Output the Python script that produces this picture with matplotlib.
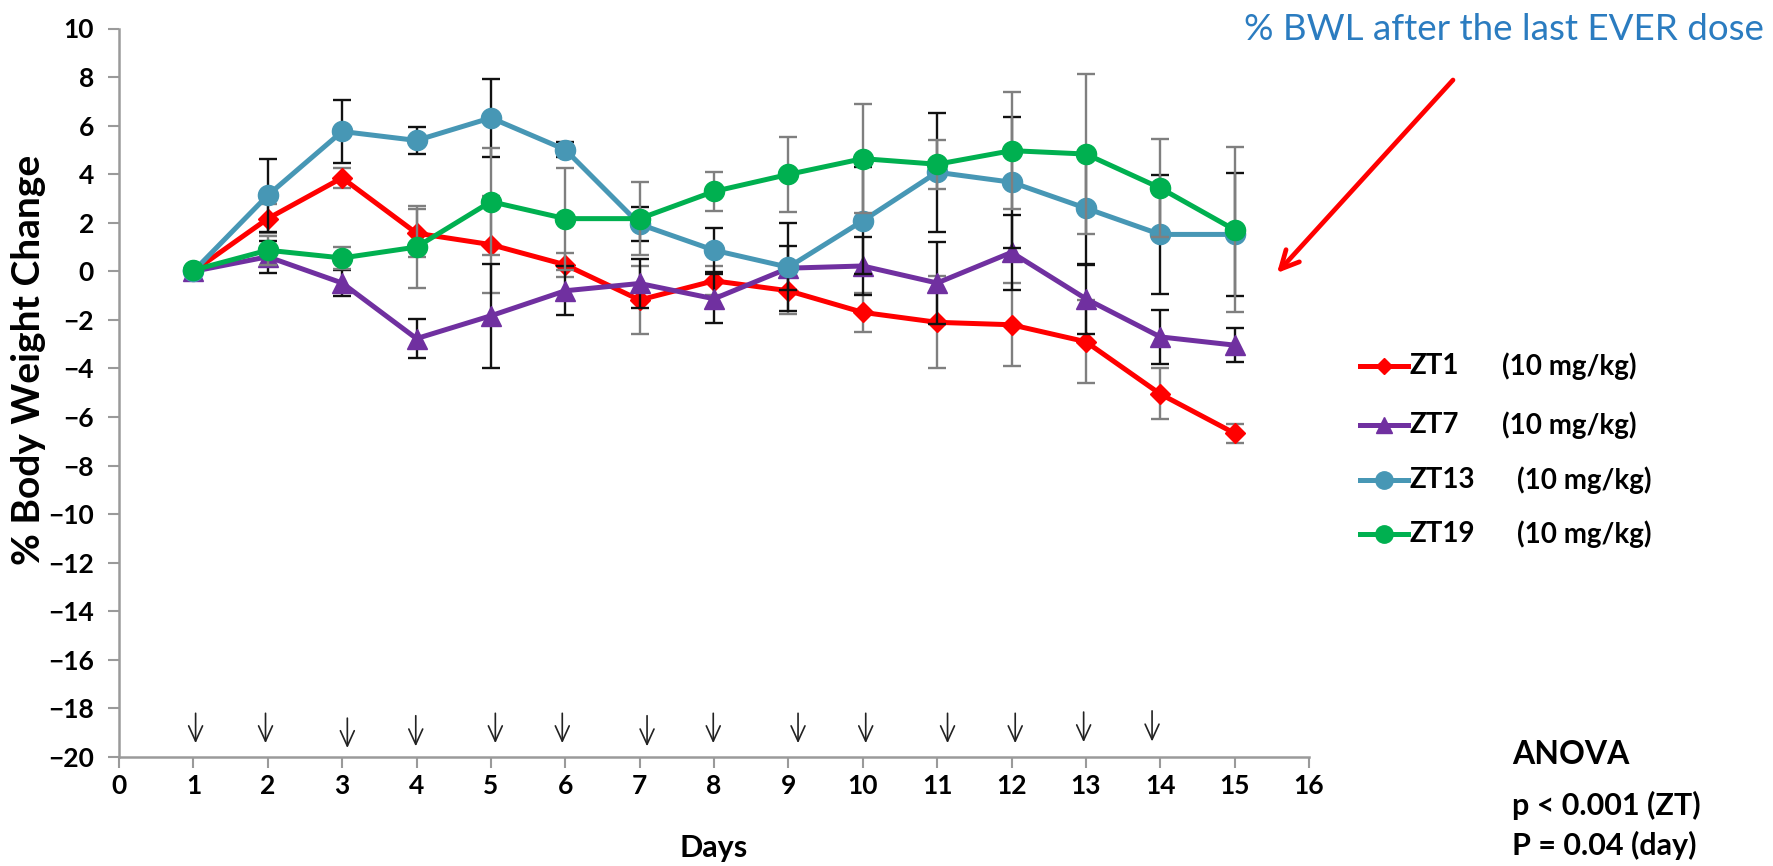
import numpy as np
import matplotlib
matplotlib.use("Agg")
import matplotlib.pyplot as plt

plt.rcParams['font.family'] = ['Lato', 'DejaVu Sans']

# === DATA ===
days = [1, 2, 3, 4, 5, 6, 7, 8, 9, 10, 11, 12, 13, 14, 15]

zt1 = [0.0, 2.17, 3.85, 1.57, 1.10, 0.27, -1.18, -0.39, -0.80, -1.69, -2.10, -2.20, -2.90, -5.05, -6.67]
zt1_err = [0, 0.6, 0.4, 1.0, 2.0, 0.5, 1.4, 0.6, 0.95, 0.8, 1.9, 1.7, 1.7, 1.05, 0.4]

zt7 = [0.0, 0.60, -0.48, -2.77, -1.83, -0.80, -0.50, -1.13, 0.13, 0.22, -0.48, 0.78, -1.13, -2.70, -3.04]
zt7_err = [0, 0.65, 0.55, 0.8, 2.15, 1.0, 1.0, 1.0, 0.9, 1.2, 1.7, 1.55, 1.45, 1.1, 0.7]

zt13 = [0.0, 3.13, 5.76, 5.39, 6.32, 5.01, 1.94, 0.87, 0.17, 2.08, 4.08, 3.67, 2.60, 1.52, 1.52]
zt13_err = [0, 1.5, 1.3, 0.55, 1.6, 0.3, 0.7, 0.9, 1.8, 2.2, 2.45, 2.7, 2.35, 2.45, 2.55]

zt19 = [0.05, 0.87, 0.55, 1.00, 2.87, 2.17, 2.17, 3.29, 3.99, 4.64, 4.41, 4.97, 4.83, 3.43, 1.71]
zt19_err = [0, 0.6, 0.45, 1.7, 2.2, 2.1, 1.5, 0.8, 1.55, 2.25, 1.0, 2.4, 3.3, 2.0, 3.4]

labels = ["ZT1", "ZT7", "ZT13", "ZT19"]
dose = "(10 mg/kg)"

# dosing arrows (x position, top, bottom)
dose_x = [1.03, 1.97, 3.07, 3.99, 5.06, 5.96, 7.10, 7.99, 9.13, 10.04, 11.14, 12.05, 12.97, 13.89]
dose_top = [-18.2, -18.2, -18.4, -18.3, -18.2, -18.2, -18.3, -18.2, -18.2, -18.2, -18.2, -18.2, -18.15, -18.1]
dose_bot = [-19.43, -19.43, -19.63, -19.56, -19.43, -19.43, -19.56, -19.43, -19.43, -19.43, -19.43, -19.43, -19.39, -19.36]

# === STYLE ===
colors = ["#FF0000", "#7030A0", "#4797B5", "#00B050"]
markers = ["D", "^", "o", "o"]
msizes = [10, 14, 14.5, 14.5]
ecolors = ["#7f7f7f", "#111111", "#111111", "#7f7f7f"]
axis_grey = "#9a9a9a"

fig = plt.figure(figsize=(17.73, 8.66), dpi=100)
ax = fig.add_axes([119/1773, 1-757/866, 1190/1773, 728.5/866])

series = [zt1, zt7, zt13, zt19]
errs = [zt1_err, zt7_err, zt13_err, zt19_err]
for i in range(4):
    ax.errorbar(days, series[i], yerr=errs[i], fmt='none', ecolor=ecolors[i],
                elinewidth=1.7, capsize=6.5, capthick=1.7, zorder=2 + i)
    ax.plot(days, series[i], color=colors[i], lw=3.6, marker=markers[i],
            ms=msizes[i], zorder=3 + i, solid_joinstyle='round')

for x, t, b in zip(dose_x, dose_top, dose_bot):
    ax.annotate("", xy=(x, b), xytext=(x, t),
                arrowprops=dict(arrowstyle="->,head_length=1.1,head_width=0.5",
                                color="#222222", lw=1.2, shrinkA=0, shrinkB=0))

ax.set_xlim(0, 16)
ax.set_ylim(-20, 10)
ax.set_xticks(range(0, 17))
ax.set_yticks(range(-20, 11, 2))
for s in ["top", "right"]:
    ax.spines[s].set_visible(False)
for s in ["left", "bottom"]:
    ax.spines[s].set_color(axis_grey)
    ax.spines[s].set_linewidth(1.8)
ax.tick_params(axis='both', direction='out', length=8, width=1.5, color=axis_grey,
               labelsize=19)
ax.tick_params(axis='x', pad=4)
ax.tick_params(axis='y', pad=10)
for lab in ax.get_xticklabels() + ax.get_yticklabels():
    lab.set_fontweight('bold')

ax.set_xlabel("Days", fontsize=22, fontweight='bold', labelpad=26)
fig.text(29/1773, 1-360/866, "% Body Weight Change", rotation=90, ha='center',
         va='center', fontsize=28, fontweight='bold')

# overlay in pixel space for annotations and legend
ov = fig.add_axes([0, 0, 1, 1])
ov.set_xlim(0, 1773)
ov.set_ylim(866, 0)
ov.set_axis_off()
ov.patch.set_alpha(0)

ov.text(1764, 30, "% BWL after the last EVER dose", ha='right', va='center',
        fontsize=26.5, color="#2B7CC0")
ov.annotate("", xy=(1277, 273), xytext=(1453, 80),
            arrowprops=dict(arrowstyle="->,head_length=1.3,head_width=0.65",
                            color="#FF0000", lw=3.4, shrinkA=0, shrinkB=0))

row_y = [366, 425, 480, 534]
dose_x_px = [1502, 1502, 1517, 1517]
for i in range(4):
    ov.plot([1360, 1408], [row_y[i], row_y[i]], color=colors[i], lw=3.6)
    ov.plot([1384], [row_y[i]], color=colors[i], marker=markers[i], ms=msizes[i] - 2,
            lw=0)
    ov.text(1410, row_y[i], labels[i], ha='left', va='center', fontsize=20,
            fontweight='bold')
    ov.text(dose_x_px[i], row_y[i], dose, ha='left', va='center', fontsize=20,
            fontweight='bold')

ov.text(1512, 755, "ANOVA", ha='left', va='center', fontsize=23, fontweight='bold')
ov.text(1512, 805, "p < 0.001 (ZT)", ha='left', va='center', fontsize=22, fontweight='bold')
ov.text(1512, 845, "P = 0.04 (day)", ha='left', va='center', fontsize=22, fontweight='bold')

fig.savefig("out.png", dpi=100)
